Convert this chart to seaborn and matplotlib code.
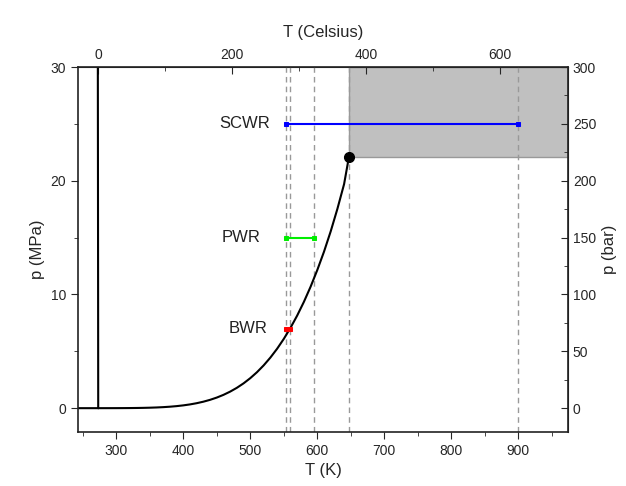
import numpy as np
import pandas as pd
import seaborn as sns
import matplotlib.pyplot as plt

# saturation (boiling) curve of water
sat_T = [273.16, 290, 300, 310, 320, 330, 340, 350, 360, 370, 380, 390,
         400, 410, 420, 430, 440, 450, 460, 470, 480, 490, 500, 510, 520,
         530, 540, 550, 560, 570, 580, 590, 600, 610, 620, 630, 640, 647.1]
sat_p = [0.0006, 0.0019, 0.0035, 0.0062, 0.0106, 0.0172, 0.0272, 0.0417, 0.0622, 0.0905, 0.1288, 0.1798,
         0.2458, 0.3302, 0.4370, 0.5699, 0.7333, 0.9319, 1.171, 1.456, 1.791, 2.183, 2.639, 3.163, 3.765,
         4.449, 5.222, 6.092, 7.064, 8.146, 9.348, 10.68, 12.15, 13.76, 15.55, 17.53, 19.71, 22.06]

# sublimation + melting lines
sub_T = [243, 260, 273.16]
sub_p = [0.00004, 0.0002, 0.0006]
melt_T = [273.16, 273.0, 272.8, 272.6]
melt_p = [0.0006, 10, 20, 30]

crit_T, crit_p = 647.1, 22.06

reactors = ['SCWR', 'PWR', 'BWR']
reactor_p = [25, 15, 7]
reactor_T = [[553, 900], [553, 595], [553, 559]]
reactor_colors = ['#0000ff', '#00ee00', '#ff0000']
label_x = [529, 516, 525]

dashed_T = [553, 559, 595, 647.1, 900]

sns.set_style('ticks')
plt.rcParams['font.family'] = ['Liberation Sans', 'DejaVu Sans']

fig = plt.figure(figsize=(6.26, 4.86), dpi=100)
ax = fig.add_axes([0.1246, 0.111, 0.7827, 0.751])

xlim = (243, 974)
ylim = (-2.1, 30)

# supercritical region
ax.fill_between([crit_T, xlim[1] + 5], crit_p, ylim[1], facecolor='#c0c0c0',
                edgecolor='#999999', linewidth=1, zorder=0)

for t in dashed_T:
    ax.axvline(t, color='#999999', linestyle=(0, (4, 3)), linewidth=1, zorder=1)

sns.lineplot(x=sub_T, y=sub_p, ax=ax, color='black', linewidth=1.5, sort=False, estimator=None)
sns.lineplot(x=melt_T, y=melt_p, ax=ax, color='black', linewidth=1.5, sort=False, estimator=None)
sns.lineplot(x=sat_T, y=sat_p, ax=ax, color='black', linewidth=1.5, sort=False, estimator=None)

for name, p, Ts, c, lx in zip(reactors, reactor_p, reactor_T, reactor_colors, label_x):
    df = pd.DataFrame({'T': Ts, 'p': [p] * len(Ts)})
    sns.lineplot(data=df, x='T', y='p', ax=ax, color=c, linewidth=1.5, marker='s',
                 markersize=3.5, markeredgecolor=c, sort=False, estimator=None)
    ax.text(lx, p, name, ha='right', va='center', fontsize=12, color='#222222')

ax.plot([crit_T], [crit_p], 'o', color='black', markersize=7, zorder=5)

ax.set_xlim(*xlim)
ax.set_ylim(*ylim)
ax.set_xticks(np.arange(300, 901, 100))
ax.set_xticks(np.arange(250, 974, 50), minor=True)
ax.set_yticks([0, 10, 20, 30])
ax.set_yticks([5, 15, 25], minor=True)
ax.set_xlabel('T (K)', fontsize=12)
ax.set_ylabel('p (MPa)', fontsize=12)
ax.tick_params(which='major', direction='out', length=5, labelsize=10)
ax.tick_params(which='minor', direction='out', length=3)

top = ax.secondary_xaxis('top', functions=(lambda k: k - 273.15, lambda c: c + 273.15))
top.set_xticks([0, 200, 400, 600])
top.set_xticks([100, 300, 500], minor=True)
top.set_xlabel('T (Celsius)', fontsize=12, labelpad=8)
top.tick_params(which='major', direction='in', length=5, labelsize=10)
top.tick_params(which='minor', direction='in', length=3)

right = ax.secondary_yaxis('right', functions=(lambda m: m * 10, lambda b: b / 10))
right.set_yticks(np.arange(0, 301, 50))
right.set_yticks(np.arange(25, 300, 50), minor=True)
right.set_ylabel('p (bar)', fontsize=12)
right.tick_params(which='major', direction='in', length=5, labelsize=10)
right.tick_params(which='minor', direction='in', length=3)

for s in ax.spines.values():
    s.set_linewidth(1.2)
    s.set_color('#222222')

fig.savefig('out.png', dpi=100)
